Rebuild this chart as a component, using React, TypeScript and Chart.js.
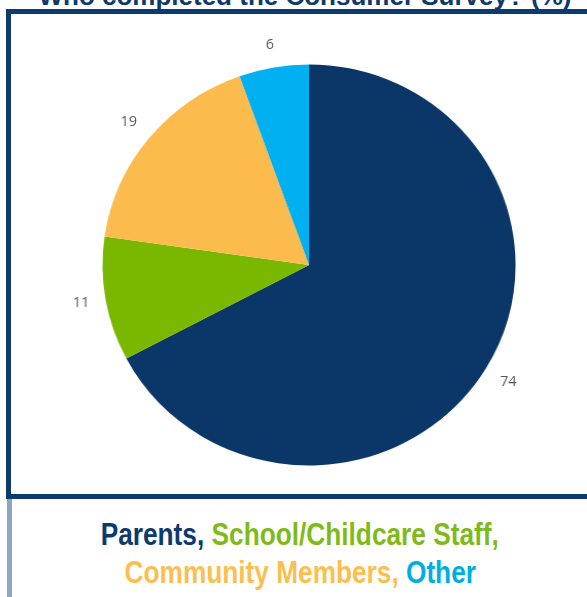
import React, { useEffect, useRef } from "react";
import { Chart, registerables } from "chart.js";

Chart.register(...registerables);

const titleText = "Who completed the Consumer Survey? (%)";
const categories = ["Parents", "School/Childcare Staff", "Community Members", "Other"];
const values = [74, 11, 19, 6];
const sliceColors = ["#0a3767", "#7ab800", "#fbbc4d", "#00b0f0"];
const legendColors = ["#0d3a6c", "#7fba1a", "#fcbf4f", "#00aee0"];

const labelPlugin = {
  id: "outsideLabels",
  afterDatasetsDraw(chart: any) {
    const ctx = chart.ctx;
    const meta = chart.getDatasetMeta(0);
    ctx.save();
    ctx.font = "14px 'Open Sans', 'Liberation Sans', Arial, sans-serif";
    ctx.fillStyle = "#595959";
    ctx.textAlign = "center";
    ctx.textBaseline = "middle";
    meta.data.forEach((arc: any, i: number) => {
      const p = arc.getProps(["x", "y", "startAngle", "endAngle", "outerRadius"], true);
      const mid = (p.startAngle + p.endAngle) / 2;
      const c = Math.cos(mid);
      const s = Math.sin(mid);
      const text = String(values[i]);
      const w = ctx.measureText(text).width;
      const h = 14;
      const ext = Math.abs(c) * w / 2 + Math.abs(s) * h / 2;
      const r = p.outerRadius + 15 + ext;
      ctx.fillText(text, p.x + c * r, p.y + s * r);
    });
    ctx.restore();
  },
};

function PieChart() {
  const ref = useRef<HTMLCanvasElement>(null);
  useEffect(() => {
    if (!ref.current) return;
    const chart = new Chart(ref.current, {
      type: "pie",
      data: {
        labels: categories,
        datasets: [
          {
            data: values,
            backgroundColor: sliceColors,
            borderWidth: 0,
          },
        ],
      },
      options: {
        responsive: false,
        animation: false,
        devicePixelRatio: 1,
        layout: { padding: 39.5 },
        plugins: {
          legend: { display: false },
          tooltip: { enabled: false },
        },
      },
      plugins: [labelPlugin],
    });
    return () => chart.destroy();
  }, []);
  return <canvas ref={ref} width={480} height={480} />;
}

export default function App() {
  return (
    <div
      style={{
        position: "fixed",
        left: 0,
        top: 0,
        width: 587,
        height: 597,
        overflow: "hidden",
        background: "#ffffff",
      }}
    >
      <div
        style={{
          position: "absolute",
          left: 0,
          top: -17,
          width: 610,
          textAlign: "center",
          font: "bold 26px/26px 'Liberation Sans', Arial, sans-serif",
          color: "#0d3a6c",
          whiteSpace: "nowrap",
        }}
      >
        {titleText}
      </div>
      <div
        style={{
          position: "absolute",
          left: 6,
          top: 9,
          width: 620,
          height: 490,
          border: "5px solid #0b3b6f",
          boxSizing: "border-box",
        }}
      />
      <div
        style={{
          position: "absolute",
          left: 7,
          top: 499,
          width: 5,
          height: 98,
          background: "#8ea4bf",
        }}
      />
      <div
        style={{
          position: "absolute",
          left: 68.5,
          top: 24.5,
          width: 480,
          height: 480,
          transform: "scaleX(1.03)",
          transformOrigin: "240px 240px",
        }}
      >
        <PieChart />
      </div>
      <div
        style={{
          position: "absolute",
          left: 0,
          top: 515,
          width: 600,
          textAlign: "center",
          font: "bold 32px/38px 'Liberation Sans', Arial, sans-serif",
          whiteSpace: "nowrap",
        }}
      >
        <div style={{ display: "inline-block", transform: "scaleX(0.82)" }}>
          <span style={{ color: legendColors[0] }}>{categories[0]},</span>{" "}
          <span style={{ color: legendColors[1] }}>{categories[1]},</span>
        </div>
        <br />
        <div style={{ display: "inline-block", transform: "scaleX(0.82)" }}>
          <span style={{ color: legendColors[2] }}>{categories[2]},</span>{" "}
          <span style={{ color: legendColors[3] }}>{categories[3]}</span>
        </div>
      </div>
    </div>
  );
}
